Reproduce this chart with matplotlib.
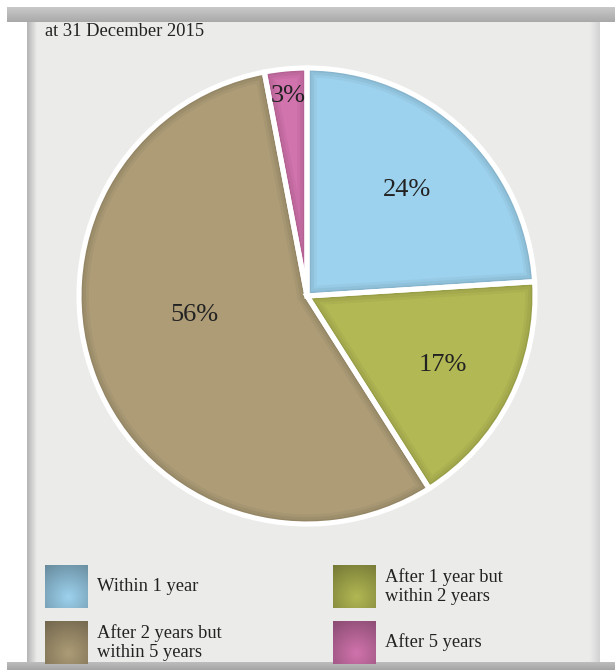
import numpy as np
import matplotlib
matplotlib.use("Agg")
import matplotlib.pyplot as plt
from matplotlib.patches import Rectangle, Wedge
from matplotlib.colors import to_rgb

# data
categories = ["Within 1 year", "After 1 year but\nwithin 2 years",
              "After 2 years but\nwithin 5 years", "After 5 years"]
shares = [24, 17, 56, 3]
colors = ["#9dd2ee", "#b2b853", "#ad9c76", "#d173ad"]
title = "at 31 December 2015"

W, H = 615, 670
plt.rcParams['font.family'] = ['Liberation Serif', 'DejaVu Serif']

fig = plt.figure(figsize=(W / 100, H / 100), dpi=100)
fig.patch.set_facecolor("white")
ax = fig.add_axes([0, 0, 1, 1])


def Y(y):
    # pixel row (from top) -> data y
    return H - y


def gradient(x0, x1, y0, y1, c0, c1, horizontal=False, z=1):
    t = np.linspace(0, 1, 64)
    c0, c1 = np.array(to_rgb(c0)), np.array(to_rgb(c1))
    g = c0[None, :] * (1 - t[:, None]) + c1[None, :] * t[:, None]
    img = g[None, :, :] if horizontal else g[:, None, :]
    ax.imshow(img, extent=(x0, x1, Y(y1), Y(y0)), origin="upper" if not horizontal else "lower",
              aspect="auto", zorder=z, interpolation="bilinear")


# frame: panel, bars and shadows
ax.add_patch(Rectangle((27, Y(662)), 573, 640, facecolor="#ebebea", edgecolor="none", zorder=0))
gradient(27, 37, 22, 662, "#b4b4b4", "#ebebea", horizontal=True)
gradient(590, 600, 22, 662, "#ebebea", "#d2d2d2", horizontal=True)
gradient(7, 615, 7, 22, "#c9c9c9", "#a9a9a9")
gradient(7, 615, 662, 670, "#bdbdbd", "#a5a5a5")

ax.text(45, Y(31), title, fontsize=13.3, color="#222222", va="center", ha="left", zorder=5)

# pie
cx, cy, r = 307, Y(296), 228
wedges, texts, autotexts = ax.pie(
    shares, colors=colors, startangle=90, counterclock=False,
    center=(cx, cy), radius=r, autopct="%d%%", pctdistance=0.65,
    wedgeprops=dict(edgecolor="none", linewidth=0),
    textprops=dict(fontsize=19, color="#222222"))

# inner shading along wedge edges, then white borders
for w in wedges:
    for lw, a in [(14, 0.035), (10, 0.045), (6, 0.06), (3, 0.08)]:
        sh = Wedge(w.center, w.r, w.theta1, w.theta2, facecolor="none",
                   edgecolor="black", linewidth=lw, alpha=a, zorder=2)
        ax.add_patch(sh)
        sh.set_clip_path(w)
    ax.add_patch(Wedge(w.center, w.r, w.theta1, w.theta2, facecolor="none",
                       edgecolor="white", linewidth=3.7, zorder=3))

# label placement tweaks (distance, angle offset)
label_dist = [0.64, 0.67, 0.50, 0.88]
label_turn = [0, 0, -12, 0]
for w, t, d, da in zip(wedges, autotexts, label_dist, label_turn):
    ang = np.deg2rad((w.theta1 + w.theta2) / 2 + da)
    t.set_position((cx + d * r * np.cos(ang), cy + d * r * np.sin(ang)))
    t.set_zorder(5)

# legend with shaded squares
leg_x = [45, 333, 45, 333]
leg_y = [565, 565, 621, 621]
for lab, c, lx, ly in zip(categories, colors, leg_x, leg_y):
    n = 48
    yy, xx = np.mgrid[0:1:n * 1j, 0:1:n * 1j]
    d = np.sqrt((xx - 0.55) ** 2 + (yy - 0.75) ** 2)
    k = np.clip(d / 0.95, 0, 1)[..., None] * 0.35
    base = np.array(to_rgb(c))
    img = base * (1 - k)
    ax.imshow(img, extent=(lx, lx + 43, Y(ly + 43), Y(ly)), origin="upper",
              aspect="auto", zorder=4, interpolation="bilinear")
    ax.text(lx + 52, Y(ly + 21.5), lab, fontsize=13.3, color="#222222",
            va="center", ha="left", linespacing=1.2, zorder=5)

ax.set_xlim(0, W)
ax.set_ylim(0, H)
ax.set_aspect("auto")
ax.axis("off")

fig.savefig("out.png", dpi=100, facecolor=fig.get_facecolor())
